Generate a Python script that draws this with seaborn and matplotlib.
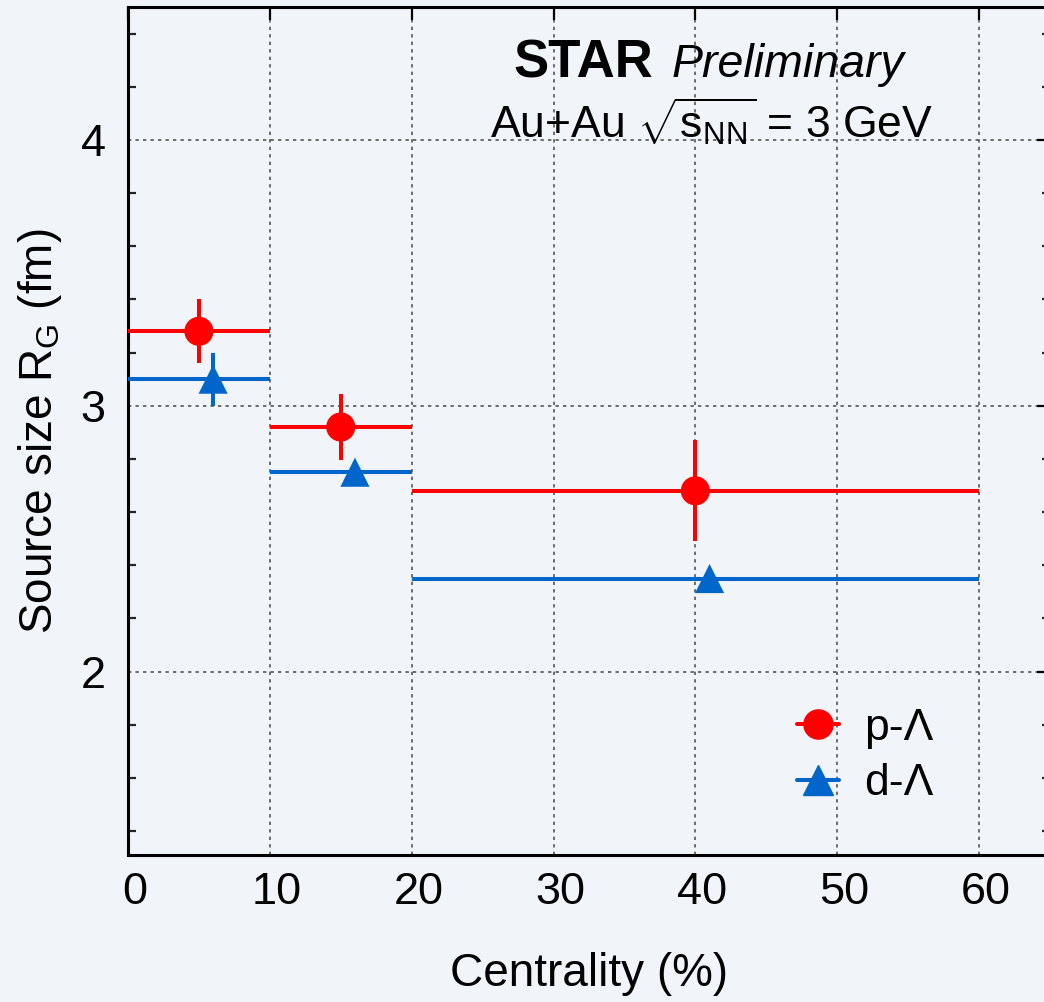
import matplotlib
matplotlib.use("Agg")
import matplotlib.pyplot as plt
import matplotlib.transforms as mtransforms
import seaborn as sns
import pandas as pd
import numpy as np
from matplotlib.lines import Line2D
from matplotlib.ticker import MultipleLocator

# ---- data ----
pL_x = [5, 15, 40]
pL_y = [3.28, 2.92, 2.68]
pL_xlo = [0, 10, 20]
pL_xhi = [10, 20, 60]
pL_yerr = [0.12, 0.125, 0.19]

dL_x = [6, 16, 41]
dL_y = [3.10, 2.75, 2.35]
dL_xlo = [0, 10, 20]
dL_xhi = [10, 20, 60]
dL_yerr = [0.10, 0.04, 0.03]

series_names = ["p-Λ", "d-Λ"]
colors = ["#ff0000", "#0066cc"]
x_ticks = [0, 10, 20, 30, 40, 50, 60]
y_ticks = [2, 3, 4]

BG = "#f1f5fa"
sns.set_theme(style="white")
plt.rcParams['font.family'] = ['Liberation Sans', 'DejaVu Sans']
plt.rcParams['text.color'] = 'black'
plt.rcParams['axes.labelcolor'] = 'black'
plt.rcParams['mathtext.fontset'] = 'custom'
plt.rcParams['mathtext.rm'] = 'Liberation Sans'
plt.rcParams['mathtext.it'] = 'Liberation Sans:italic'
plt.rcParams['mathtext.bf'] = 'Liberation Sans:bold'

fig = plt.figure(figsize=(10.44, 10.02), dpi=100, facecolor=BG)
W, H = 1044, 1002
x0, x1 = 128, 1050
y0, y1 = 855, 7
ax = fig.add_axes([x0 / W, 1 - y0 / H, (x1 - x0) / W, (y0 - y1) / H])
ax.set_facecolor(BG)

df = pd.DataFrame({
    "x": pL_x + dL_x,
    "y": pL_y + dL_y,
    "s": [series_names[0]] * 3 + [series_names[1]] * 3,
})

lw = 2.9
for xs, ys, xlo, xhi, ye, c in [
    (pL_x, pL_y, pL_xlo, pL_xhi, pL_yerr, colors[0]),
    (dL_x, dL_y, dL_xlo, dL_xhi, dL_yerr, colors[1]),
]:
    xs = np.array(xs); ys = np.array(ys)
    xerr = [xs - np.array(xlo), np.array(xhi) - xs]
    ax.errorbar(xs, ys, xerr=xerr, yerr=ye, fmt='none', ecolor=c,
                elinewidth=lw, capsize=0, zorder=3)

sns.scatterplot(data=df, x="x", y="y", hue="s", style="s",
                palette=colors, markers={series_names[0]: "o", series_names[1]: "^"},
                s=440, linewidth=0, ax=ax, legend=False, zorder=4)

ax.set_xlim(0, 65)
ax.set_ylim(1.31, 4.5)
ax.set_xticks(x_ticks)
ax.set_yticks(y_ticks)
ax.yaxis.set_minor_locator(MultipleLocator(0.2))
ax.grid(True, which='major', color='#555555', linestyle=(0, (2, 2.5)), linewidth=1.2)
ax.set_axisbelow(True)

for sp in ax.spines.values():
    sp.set_linewidth(2.2)
    sp.set_color('black')

ax.tick_params(axis='both', which='major', direction='in', length=9.5, width=1.6,
               labelsize=32.5, colors='black', top=True, right=True)
ax.tick_params(axis='y', which='minor', direction='in', length=6, width=1.6,
               left=True, right=True)
ax.tick_params(axis='x', which='major', pad=12)
ax.tick_params(axis='y', which='major', pad=16)

offset = mtransforms.ScaledTranslation(7 / 100, 0, fig.dpi_scale_trans)
for lab in ax.get_xticklabels():
    lab.set_transform(lab.get_transform() + offset)

ax.set_xlabel("Centrality (%)", fontsize=33, labelpad=28, color='black')
ax.set_ylabel(r"Source size R$_{\mathregular{G}}$ (fm)", fontsize=33, labelpad=12, color='black')

handles = [
    Line2D([], [], color=colors[0], marker='o', markersize=21, linewidth=lw),
    Line2D([], [], color=colors[1], marker='^', markersize=21, linewidth=lw),
]
leg = ax.legend(handles, series_names, loc='center left',
                bbox_to_anchor=(797 / W, 1 - 756 / H), bbox_transform=fig.transFigure,
                frameon=False, fontsize=32, handlelength=0.95, handletextpad=0.55,
                labelspacing=0.32, borderpad=0, borderaxespad=0)
for t in leg.get_texts():
    t.set_color('black')

fig.text(513 / W, 1 - 77 / H, "STAR", fontsize=38, fontweight='bold', ha='left', va='baseline')
fig.text(672 / W, 1 - 77 / H, "Preliminary", fontsize=33.5, fontstyle='italic', ha='left', va='baseline')
fig.text(490 / W, 1 - 138 / H, r"Au+Au $\sqrt{\mathregular{s}_{\mathregular{NN}}}$ = 3 GeV", fontsize=32,
         ha='left', va='baseline')

fig.savefig("out.png", dpi=100, facecolor=BG)
